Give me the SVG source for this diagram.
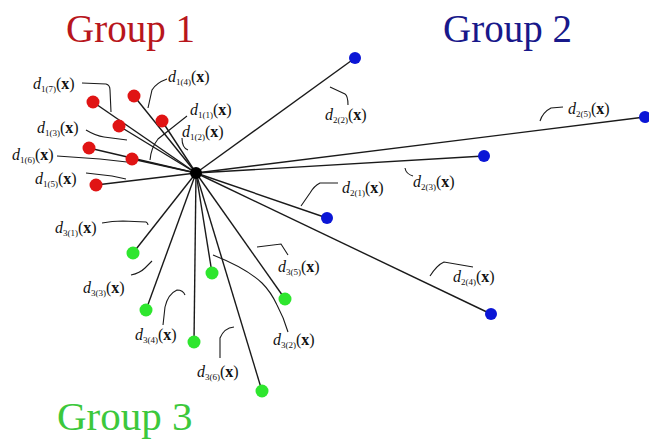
<svg xmlns="http://www.w3.org/2000/svg" width="649" height="442" viewBox="0 0 649 442">
<style>
.title{font-family:"Liberation Serif","Times New Roman",serif;}
.lbl{font-family:"Liberation Serif","Times New Roman",serif;font-size:16px;fill:#111;}
.d{font-style:italic;}
.s{font-size:9px;}
.x{font-weight:bold;}
.edge{stroke:#1a1a1a;stroke-width:1.4;fill:none;}
.lead{stroke:#1a1a1a;stroke-width:1.1;fill:none;}
.r{fill:#e01414;}
.b{fill:#0b16d6;}
.g{fill:#2ee62e;}
</style>
<rect width="649" height="442" fill="#ffffff"/>
<g id="titles">
<text class="title" x="66" y="42" font-size="39" fill="#b8161c">Group 1</text>
<text class="title" x="443" y="42" font-size="39" fill="#18188a">Group 2</text>
<text class="title" x="57" y="430" font-size="41" fill="#3cc83c">Group 3</text>
</g>
<g id="connectors">
<line class="edge" x1="196" y1="173" x2="93" y2="102"/>
<line class="edge" x1="196" y1="173" x2="134" y2="96"/>
<line class="edge" x1="196" y1="173" x2="119" y2="126"/>
<line class="edge" x1="196" y1="173" x2="162" y2="121"/>
<line class="edge" x1="196" y1="173" x2="89" y2="148"/>
<line class="edge" x1="196" y1="173" x2="132" y2="159"/>
<line class="edge" x1="196" y1="173" x2="96" y2="185"/>
<line class="edge" x1="196" y1="173" x2="355" y2="58"/>
<line class="edge" x1="196" y1="173" x2="645" y2="117"/>
<line class="edge" x1="196" y1="173" x2="484" y2="156"/>
<line class="edge" x1="196" y1="173" x2="327" y2="218"/>
<line class="edge" x1="196" y1="173" x2="491" y2="314"/>
<line class="edge" x1="196" y1="173" x2="133" y2="253"/>
<line class="edge" x1="196" y1="173" x2="146" y2="310"/>
<line class="edge" x1="196" y1="173" x2="212" y2="273"/>
<line class="edge" x1="196" y1="173" x2="194" y2="342"/>
<line class="edge" x1="196" y1="173" x2="285" y2="299"/>
<line class="edge" x1="196" y1="173" x2="262" y2="391"/>
</g>
<g id="leaders">
<path class="lead" d="M82,83 L106,84 Q110,85 110,90 L111,112"/>
<path class="lead" d="M167,79 Q156,83 152,90 L148,108"/>
<path class="lead" d="M187,116 L158,139 Q151,148 150,160"/>
<path class="lead" d="M182,138 Q182,148 188,150"/>
<path class="lead" d="M86,130 Q96,136 104,137 L127,140"/>
<path class="lead" d="M57,156 L100,159 L136,163"/>
<path class="lead" d="M86,173 L112,176 L126,179"/>
<path class="lead" d="M330,87 L345,94 Q348,96 348,105"/>
<path class="lead" d="M563,107 L551,108 Q543,112 540,121"/>
<path class="lead" d="M405,168 Q406,174 413,176"/>
<path class="lead" d="M338,183 L320,183 Q314,186 310,193 L301,206"/>
<path class="lead" d="M473,267 L444,262 Q437,265 430,276"/>
<path class="lead" d="M102,223 Q112,221 123,221 L146,222 Q148,223 148,225"/>
<path class="lead" d="M131,275 Q140,273 145,268 L152,261"/>
<path class="lead" d="M163,325 L165,307 Q168,294 177,290 Q183,290 185,295"/>
<path class="lead" d="M288,255 L281,244 L257,247"/>
<path class="lead" d="M288,332 Q284,318 277,305 Q271,292 262,283 Q246,268 213,255"/>
<path class="lead" d="M220,358 L220,338 Q224,328 234,327"/>
</g>
<g id="hub"><circle cx="196" cy="173" r="6" fill="#000"/></g>
<g id="g1-n1"><circle class="r" cx="93" cy="102" r="6.5"/></g>
<g id="g1-n2"><circle class="r" cx="134" cy="96" r="6.5"/></g>
<g id="g1-n3"><circle class="r" cx="119" cy="126" r="6.5"/></g>
<g id="g1-n4"><circle class="r" cx="162" cy="121" r="6.5"/></g>
<g id="g1-n5"><circle class="r" cx="89" cy="148" r="6.5"/></g>
<g id="g1-n6"><circle class="r" cx="132" cy="159" r="6.5"/></g>
<g id="g1-n7"><circle class="r" cx="96" cy="185" r="6.5"/></g>
<g id="g2-n1"><circle class="b" cx="355" cy="58" r="6"/></g>
<g id="g2-n2"><circle class="b" cx="645" cy="117" r="6"/></g>
<g id="g2-n3"><circle class="b" cx="484" cy="156" r="6"/></g>
<g id="g2-n4"><circle class="b" cx="327" cy="218" r="6"/></g>
<g id="g2-n5"><circle class="b" cx="491" cy="314" r="6"/></g>
<g id="g3-n1"><circle class="g" cx="133" cy="253" r="6.5"/></g>
<g id="g3-n2"><circle class="g" cx="146" cy="310" r="6.5"/></g>
<g id="g3-n3"><circle class="g" cx="212" cy="273" r="6.5"/></g>
<g id="g3-n4"><circle class="g" cx="194" cy="342" r="6.5"/></g>
<g id="g3-n5"><circle class="g" cx="285" cy="299" r="6.5"/></g>
<g id="g3-n6"><circle class="g" cx="262" cy="391" r="6.5"/></g>
<g id="labels">
<text class="lbl" x="33" y="89"><tspan class="d">d</tspan><tspan class="s" dy="3">1(7)</tspan><tspan dy="-3">(</tspan><tspan class="x">x</tspan>)</text>
<text class="lbl" x="168" y="82"><tspan class="d">d</tspan><tspan class="s" dy="3">1(4)</tspan><tspan dy="-3">(</tspan><tspan class="x">x</tspan>)</text>
<text class="lbl" x="190" y="115"><tspan class="d">d</tspan><tspan class="s" dy="3">1(1)</tspan><tspan dy="-3">(</tspan><tspan class="x">x</tspan>)</text>
<text class="lbl" x="182" y="137"><tspan class="d">d</tspan><tspan class="s" dy="3">1(2)</tspan><tspan dy="-3">(</tspan><tspan class="x">x</tspan>)</text>
<text class="lbl" x="37" y="133"><tspan class="d">d</tspan><tspan class="s" dy="3">1(3)</tspan><tspan dy="-3">(</tspan><tspan class="x">x</tspan>)</text>
<text class="lbl" x="12" y="160"><tspan class="d">d</tspan><tspan class="s" dy="3">1(6)</tspan><tspan dy="-3">(</tspan><tspan class="x">x</tspan>)</text>
<text class="lbl" x="35" y="184"><tspan class="d">d</tspan><tspan class="s" dy="3">1(5)</tspan><tspan dy="-3">(</tspan><tspan class="x">x</tspan>)</text>
<text class="lbl" x="325" y="120"><tspan class="d">d</tspan><tspan class="s" dy="3">2(2)</tspan><tspan dy="-3">(</tspan><tspan class="x">x</tspan>)</text>
<text class="lbl" x="568" y="114"><tspan class="d">d</tspan><tspan class="s" dy="3">2(5)</tspan><tspan dy="-3">(</tspan><tspan class="x">x</tspan>)</text>
<text class="lbl" x="413" y="187"><tspan class="d">d</tspan><tspan class="s" dy="3">2(3)</tspan><tspan dy="-3">(</tspan><tspan class="x">x</tspan>)</text>
<text class="lbl" x="342" y="193"><tspan class="d">d</tspan><tspan class="s" dy="3">2(1)</tspan><tspan dy="-3">(</tspan><tspan class="x">x</tspan>)</text>
<text class="lbl" x="453" y="282"><tspan class="d">d</tspan><tspan class="s" dy="3">2(4)</tspan><tspan dy="-3">(</tspan><tspan class="x">x</tspan>)</text>
<text class="lbl" x="55" y="233"><tspan class="d">d</tspan><tspan class="s" dy="3">3(1)</tspan><tspan dy="-3">(</tspan><tspan class="x">x</tspan>)</text>
<text class="lbl" x="83" y="293"><tspan class="d">d</tspan><tspan class="s" dy="3">3(3)</tspan><tspan dy="-3">(</tspan><tspan class="x">x</tspan>)</text>
<text class="lbl" x="135" y="340"><tspan class="d">d</tspan><tspan class="s" dy="3">3(4)</tspan><tspan dy="-3">(</tspan><tspan class="x">x</tspan>)</text>
<text class="lbl" x="278" y="272"><tspan class="d">d</tspan><tspan class="s" dy="3">3(5)</tspan><tspan dy="-3">(</tspan><tspan class="x">x</tspan>)</text>
<text class="lbl" x="273" y="345"><tspan class="d">d</tspan><tspan class="s" dy="3">3(2)</tspan><tspan dy="-3">(</tspan><tspan class="x">x</tspan>)</text>
<text class="lbl" x="197" y="377"><tspan class="d">d</tspan><tspan class="s" dy="3">3(6)</tspan><tspan dy="-3">(</tspan><tspan class="x">x</tspan>)</text>
</g>
</svg>
